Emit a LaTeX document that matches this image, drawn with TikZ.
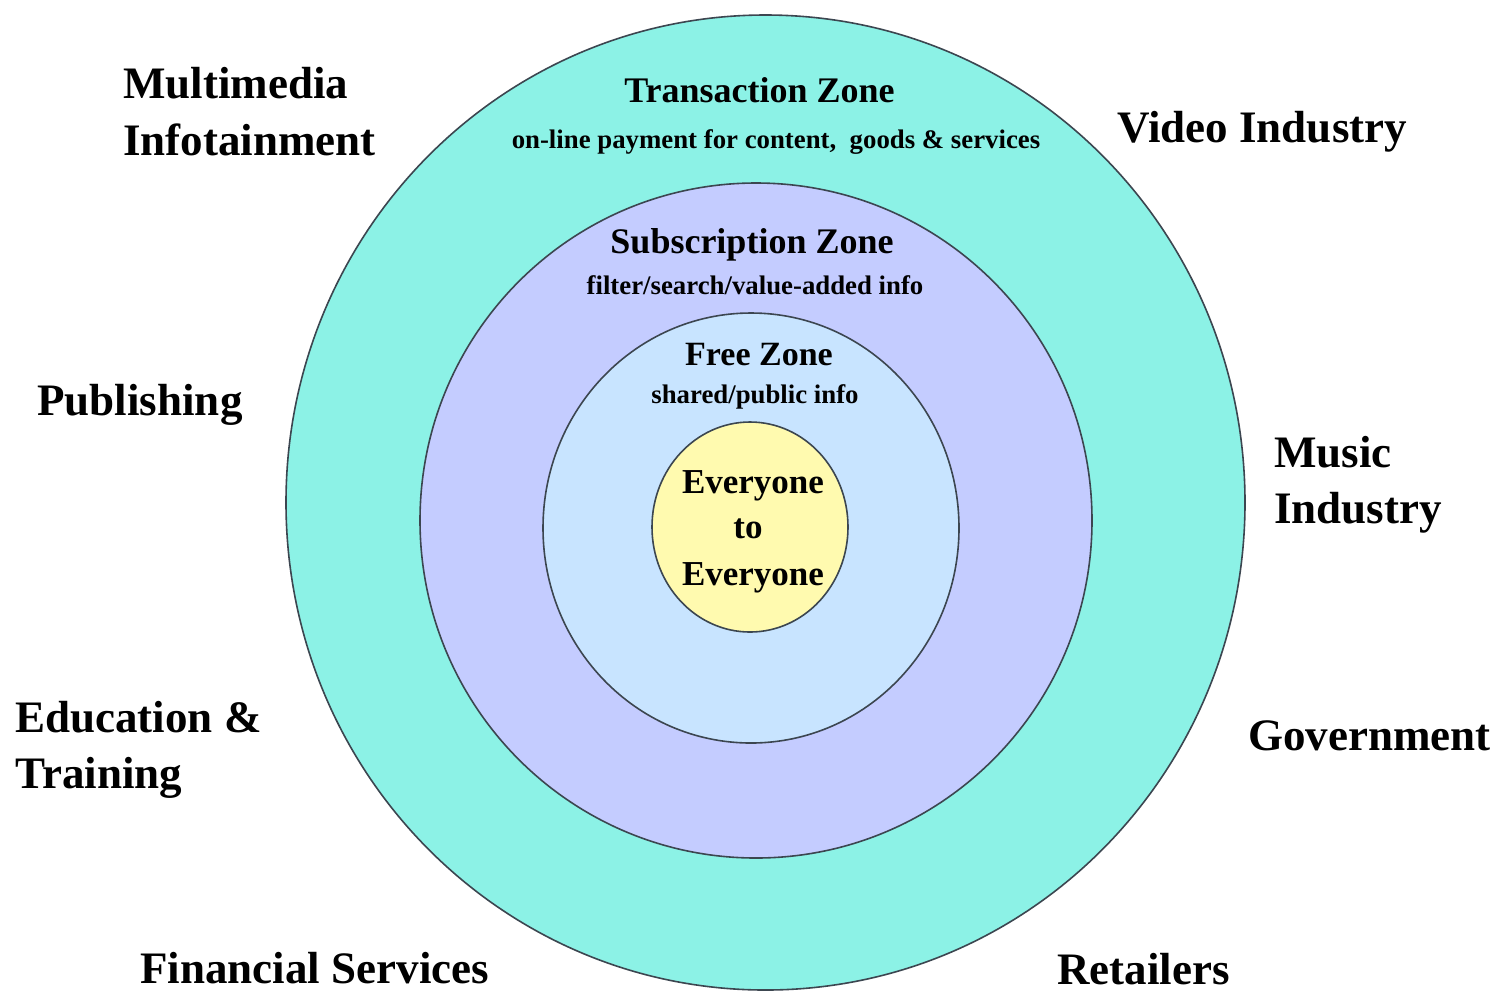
\documentclass[tikz,border=0pt]{standalone}
\usepackage{fontspec}
\setmainfont{Liberation Serif}
\definecolor{transc}{RGB}{140,242,230}
\definecolor{subsc}{RGB}{196,204,255}
\definecolor{freec}{RGB}{200,228,255}
\definecolor{evc}{RGB}{255,250,175}
\definecolor{rimc}{RGB}{60,70,80}
\tikzset{
  zone/.style={draw=rimc, line width=0.8pt},
  side/.style={inner sep=0pt, anchor=base west, font=\fontsize{22.5}{27}\selectfont\bfseries},
  ztitle/.style={inner sep=0pt, anchor=base, font=\fontsize{18}{22}\selectfont\bfseries},
  zsub/.style={inner sep=0pt, anchor=base, font=\fontsize{13.4}{16}\selectfont\bfseries},
  core/.style={inner sep=0pt, anchor=base, font=\fontsize{17.5}{21}\selectfont\bfseries}
}
\begin{document}
\begin{tikzpicture}[x=0.5pt,y=-0.5pt]
\useasboundingbox[fill=white] (0,0) rectangle (1499,993);
% zones
\fill[transc, zone] (765.5,502.5) ellipse [x radius=239.75pt, y radius=243.75pt];
\fill[subsc, zone] (756,520.5) ellipse [x radius=168pt, y radius=168.75pt];
\fill[freec, zone] (751,528) ellipse [x radius=104pt, y radius=107.5pt];
\fill[evc, zone] (750,527) ellipse [x radius=49pt, y radius=52.5pt];
% zone texts
\node[ztitle] (tz) at (759.5,102) {Transaction Zone};
\node[zsub] (tzs) at (776,148) {on-line payment for content,\ \ goods \& services};
\node[ztitle] (sz) at (752,253) {Subscription Zone};
\node[zsub] (szs) at (755,294) {filter/search/value-added info};
\node[ztitle, font=\fontsize{17}{21}\selectfont\bfseries] (fz) at (759,365) {Free Zone};
\node[zsub] (fzs) at (755,403) {shared/public info};
\node[core] (e1) at (753,493) {Everyone};
\node[core] (e2) at (748,538) {to};
\node[core] (e3) at (753,585) {Everyone};
% side labels
\node[side] (mm1) at (123,98) {Multimedia};
\node[side] (mm2) at (123,155) {Infotainment};
\node[side] (vid) at (1117,142) {Video Industry};
\node[side] (pub) at (37,415) {Publishing};
\node[side] (mu1) at (1274,467) {Music};
\node[side] (mu2) at (1274,523) {Industry};
\node[side] (ed1) at (15,732) {Education \&};
\node[side] (ed2) at (15,788) {Training};
\node[side] (gov) at (1248,750) {Government};
\node[side] (fin) at (140,983) {Financial Services};
\node[side] (ret) at (1057,984) {Retailers};
\end{tikzpicture}
\end{document}
